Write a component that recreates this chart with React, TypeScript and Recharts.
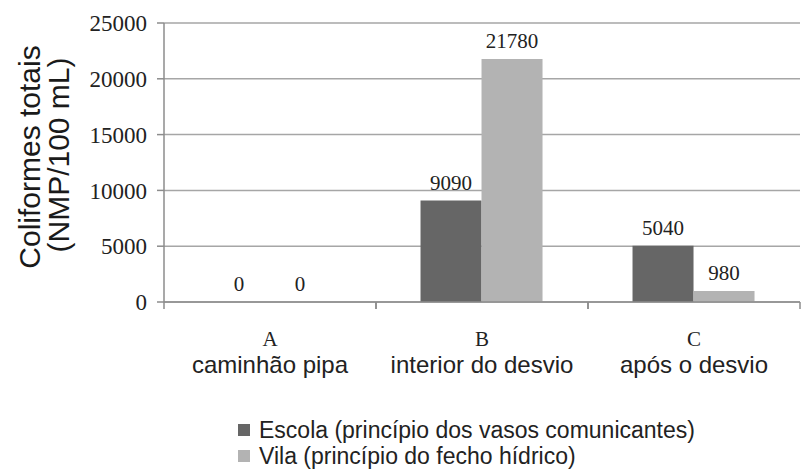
import React from "react";
import { BarChart, Bar, XAxis, YAxis, CartesianGrid, LabelList } from "recharts";

const letters = ["A", "B", "C"];
const places = ["caminhão pipa", "interior do desvio", "após o desvio"];
const escola = [0, 9090, 5040];
const vila = [0, 21780, 980];
const yTicks = [0, 5000, 10000, 15000, 20000, 25000];
const seriesNames = ["Escola (princípio dos vasos comunicantes)", "Vila (princípio do fecho hídrico)"];
const seriesColors = ["#666666", "#b3b3b3"];
const yLabelLines = ["Coliformes totais", "(NMP/100 mL)"];

const data = letters.map((l, i) => ({
  letter: l,
  place: places[i],
  escola: escola[i],
  vila: vila[i],
}));

const SERIF = "'Liberation Serif', 'Times New Roman', serif";
const SANS = "'Liberation Sans', Arial, sans-serif";
const AXIS = "#8c8c8c";

const XTick = (props: any) => {
  const { x, y, payload } = props;
  const off = payload && payload.offset ? payload.offset : 106;
  const d = data[payload.index] || data.find((e) => e.letter === payload.value);
  return (
    <g>
      <line x1={x - off} y1={y} x2={x - off} y2={y + 7} stroke={AXIS} strokeWidth={1.5} />
      <line x1={x + off} y1={y} x2={x + off} y2={y + 7} stroke={AXIS} strokeWidth={1.5} />
      <text x={x} y={y + 44} textAnchor="middle" fontFamily={SERIF} fontSize={21} fill="#222">
        {payload.value}
      </text>
      <text x={x} y={y + 71} textAnchor="middle" fontFamily={SANS} fontSize={24} fill="#222">
        {d ? d.place : ""}
      </text>
    </g>
  );
};

const YLabel = () => (
  <g>
    <text
      x={40}
      y={157}
      transform="rotate(-90, 40, 157)"
      textAnchor="middle"
      fontFamily={SANS}
      fontSize={30}
      fill="#1a1a1a"
    >
      {yLabelLines[0]}
    </text>
    <text
      x={69}
      y={155}
      transform="rotate(-90, 69, 155)"
      textAnchor="middle"
      fontFamily={SANS}
      fontSize={30}
      fill="#1a1a1a"
    >
      {yLabelLines[1]}
    </text>
  </g>
);

const ValueLabel = (props: any) => {
  const { x, y, width, value } = props;
  if (value === undefined || value === null) return null;
  return (
    <text x={x + width / 2} y={y - 11} textAnchor="middle" fontFamily={SERIF} fontSize={21} fill="#222">
      {value}
    </text>
  );
};

export default function App() {
  return (
    <div style={{ position: "absolute", left: 0, top: 0, width: 807, height: 469, background: "#fff", overflow: "hidden" }}>
      <BarChart
        width={807}
        height={469}
        data={data}
        margin={{ top: 23, right: 7, left: 0, bottom: 107 }}
        barCategoryGap="21%"
        barGap={0}
      >
        <CartesianGrid vertical={false} stroke="#a6a6a6" strokeWidth={1.5} />
        <XAxis
          dataKey="letter"
          height={60}
          axisLine={{ stroke: AXIS, strokeWidth: 1.5 }}
          tickLine={false}
          tickSize={0}
          tickMargin={0}
          tick={<XTick />}
          interval={0}
        />
        <YAxis
          width={164}
          domain={[0, 25000]}
          ticks={yTicks}
          interval={0}
          axisLine={{ stroke: AXIS, strokeWidth: 1.5 }}
          tickLine={{ stroke: AXIS, strokeWidth: 1.5 }}
          tickSize={7}
          tickMargin={10}
          tick={{ fontFamily: SERIF, fontSize: 23, fill: "#222" }}
          label={<YLabel />}
        />
        <Bar dataKey="escola" name={seriesNames[0]} fill={seriesColors[0]} minPointSize={0.01} isAnimationActive={false}>
          <LabelList dataKey="escola" content={<ValueLabel />} />
        </Bar>
        <Bar dataKey="vila" name={seriesNames[1]} fill={seriesColors[1]} minPointSize={0.01} isAnimationActive={false}>
          <LabelList dataKey="vila" content={<ValueLabel />} />
        </Bar>
      </BarChart>
      <div style={{ position: "absolute", left: 238, top: 417 }}>
        {seriesNames.map((n, i) => (
          <div key={n} style={{ display: "flex", alignItems: "center", height: 26 }}>
            <span style={{ width: 12, height: 12, background: seriesColors[i], marginRight: 9, display: "inline-block" }} />
            <span style={{ fontFamily: SANS, fontSize: 23, lineHeight: "26px", color: "#222", whiteSpace: "nowrap" }}>{n}</span>
          </div>
        ))}
      </div>
    </div>
  );
}
